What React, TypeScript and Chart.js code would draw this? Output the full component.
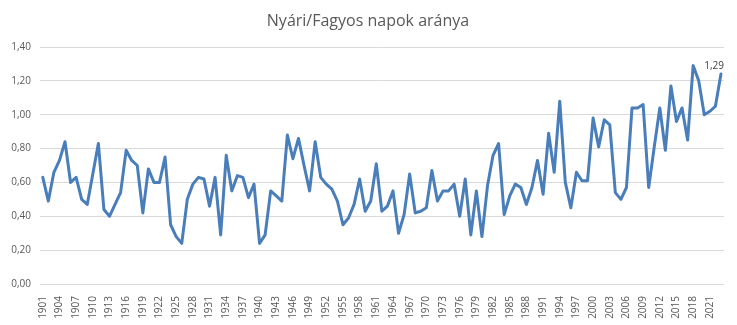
import React, { useEffect, useRef } from "react";
import { Chart, registerables } from "chart.js";

Chart.register(...registerables);

const years: string[] = [];
for (let y = 1901; y <= 2023; y++) years.push(String(y));

const ratio: number[] = [
  0.63, 0.49, 0.66, 0.73, 0.84, 0.6, 0.63, 0.5, 0.47, 0.65,
  0.83, 0.44, 0.4, 0.47, 0.54, 0.79, 0.73, 0.7, 0.42, 0.68,
  0.6, 0.6, 0.75, 0.35, 0.28, 0.24, 0.5, 0.59, 0.63, 0.62,
  0.46, 0.63, 0.29, 0.76, 0.55, 0.64, 0.63, 0.51, 0.59, 0.24,
  0.29, 0.55, 0.52, 0.49, 0.88, 0.74, 0.86, 0.7, 0.55, 0.84,
  0.63, 0.59, 0.56, 0.49, 0.35, 0.39, 0.47, 0.62, 0.43, 0.49,
  0.71, 0.43, 0.46, 0.55, 0.3, 0.41, 0.65, 0.42, 0.43, 0.45,
  0.67, 0.49, 0.55, 0.55, 0.59, 0.4, 0.62, 0.29, 0.55, 0.28,
  0.58, 0.76, 0.83, 0.41, 0.52, 0.59, 0.57, 0.47, 0.57, 0.73,
  0.53, 0.89, 0.66, 1.08, 0.6, 0.45, 0.66, 0.61, 0.61, 0.98,
  0.81, 0.97, 0.94, 0.54, 0.5, 0.57, 1.04, 1.04, 1.06, 0.57,
  0.81, 1.04, 0.79, 1.17, 0.96, 1.04, 0.85, 1.29, 1.2, 1.0,
  1.02, 1.05, 1.24,
];

const yTicks: number[] = [0, 0.2, 0.4, 0.6, 0.8, 1.0, 1.2, 1.4];
const titleText = "Nyári/Fagyos napok aránya";
const labelIndex = 117;
const labelText = "1,29";

const FONT = "'Open Sans', sans-serif";

export default function App() {
  const ref = useRef<HTMLCanvasElement | null>(null);
  useEffect(() => {
    if (!ref.current) return;
    const titlePlugin = {
      id: "titleDraw",
      afterDraw(chart: any) {
        const ctx = chart.ctx;
        ctx.save();
        ctx.font = `16px ${FONT}`;
        ctx.fillStyle = "#595959";
        ctx.textAlign = "center";
        ctx.textBaseline = "alphabetic";
        ctx.fillText(titleText, 368, 26);
        ctx.restore();
      },
    };
    const labelPlugin = {
      id: "pointLabel",
      afterDatasetsDraw(chart: any) {
        const meta = chart.getDatasetMeta(0);
        const pt = meta.data[labelIndex];
        if (!pt) return;
        const ctx = chart.ctx;
        ctx.save();
        ctx.font = `10px ${FONT}`;
        ctx.fillStyle = "#404040";
        ctx.textAlign = "left";
        ctx.textBaseline = "middle";
        ctx.fillText(labelText, pt.x + 11, pt.y + 1);
        ctx.restore();
      },
    };
    const chart = new Chart(ref.current, {
      type: "line",
      data: {
        labels: years,
        datasets: [
          {
            data: ratio,
            borderColor: "#4A7EBB",
            borderWidth: 3,
            pointRadius: 0,
            tension: 0,
            borderJoinStyle: "round",
            borderCapStyle: "round",
            fill: false,
          },
        ],
      },
      options: {
        animation: false,
        responsive: false,
        devicePixelRatio: 1,
        layout: { padding: { left: 0, right: 11, top: 47, bottom: 0 } },
        plugins: {
          legend: { display: false },
          tooltip: { enabled: false },
          title: { display: false },
        },
        scales: {
          x: {
            offset: true,
            grid: { display: false },
            border: { display: true, color: "#d9d9d9", width: 1 },
            ticks: {
              autoSkip: false,
              minRotation: 90,
              maxRotation: 90,
              padding: 4,
              color: "#595959",
              font: { family: FONT, size: 10 },
              callback: (_v: any, i: number) => (i % 3 === 0 ? years[i] : ""),
            },
            afterFit: (s: any) => {
              s.height = 41;
            },
          },
          y: {
            min: 0,
            max: 1.4,
            afterBuildTicks: (s: any) => {
              s.ticks = yTicks.map((v) => ({ value: v }));
            },
            grid: { color: "#d9d9d9", drawTicks: false, lineWidth: 1 },
            border: { display: false },
            ticks: {
              padding: 9,
              color: "#595959",
              font: { family: FONT, size: 10 },
              callback: (v: any) => Number(v).toFixed(2).replace(".", ","),
            },
            afterFit: (s: any) => {
              s.width = 40;
            },
          },
        },
      },
      plugins: [titlePlugin, labelPlugin],
    } as any);
    return () => chart.destroy();
  }, []);
  return (
    <div style={{ position: "fixed", left: 0, top: 0, width: 737, height: 325, background: "#fff" }}>
      <canvas ref={ref} width={737} height={325} style={{ width: 737, height: 325 }} />
    </div>
  );
}
